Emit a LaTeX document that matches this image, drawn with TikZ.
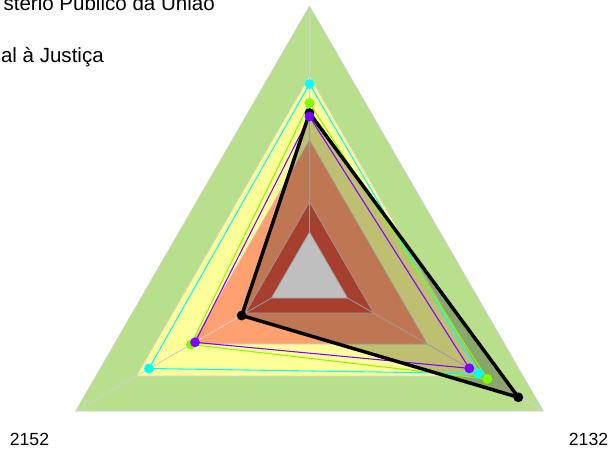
\documentclass[tikz,border=0pt]{standalone}
\usepackage{fontspec}
\setmainfont{Liberation Sans}
\definecolor{lvgreen}{HTML}{B8E08C}
\definecolor{lvyellow}{HTML}{FFFF99}
\definecolor{lvorange}{HTML}{FFA070}
\definecolor{lvred}{HTML}{E05540}
\definecolor{sercyan}{HTML}{00FFFF}
\definecolor{serlime}{HTML}{80FF00}
\definecolor{serpurple}{HTML}{8000FF}
\definecolor{gridgray}{HTML}{D0D0D0}
\begin{document}
\begin{tikzpicture}[x=0.75pt,y=-0.75pt,
  level/.style={draw=gridgray,line width=0.5pt},
  axisline/.style={draw=gridgray,line width=0.6pt},
  serline/.style={line width=0.8pt,line join=round},
  dot/.style={circle,inner sep=0pt,minimum size=7.4pt},
  leglbl/.style={font=\fontsize{15.4}{18}\selectfont,inner sep=0pt},
  lbl/.style={font=\fontsize{13.2}{16}\selectfont,inner sep=0pt}]
\useasboundingbox (0,0) rectangle (609,451);
\clip (0,0) rectangle (609,451);
% level triangles
\coordinate (g1) at (309.5,6);   \coordinate (g2) at (75.7,411);  \coordinate (g3) at (543.3,411);
\coordinate (y1) at (309.5,76);  \coordinate (y2) at (136.3,376); \coordinate (y3) at (482.7,376);
\coordinate (o1) at (309.5,140); \coordinate (o2) at (191.7,344); \coordinate (o3) at (427.3,344);
\coordinate (r1) at (309.5,202); \coordinate (r2) at (245.4,313); \coordinate (r3) at (373.6,313);
\coordinate (w1) at (309.5,232); \coordinate (w2) at (271.4,298); \coordinate (w3) at (347.6,298);
\fill[level,fill=lvgreen] (g1)--(g2)--(g3)--cycle;
\fill[level,fill=lvyellow] (y1)--(y2)--(y3)--cycle;
\fill[level,fill=lvorange] (o1)--(o2)--(o3)--cycle;
\fill[level,fill=lvred] (r1)--(r2)--(r3)--cycle;
\fill[level,fill=white] (w1)--(w2)--(w3)--cycle;
\draw[axisline] (w1)--(g1);
\draw[axisline] (w2)--(g2);
\draw[axisline] (w3)--(g3);
% series points
\coordinate (c1) at (309.5,84);   \coordinate (c2) at (149,368.5);  \coordinate (c3) at (478.3,373.5);
\coordinate (l1) at (309.5,103);  \coordinate (l2) at (191,344.5);  \coordinate (l3) at (487.3,379);
\coordinate (p1) at (309.5,116.5);\coordinate (p2) at (195,342.3);  \coordinate (p3) at (469.3,368.3);
\coordinate (k1) at (309.5,113);  \coordinate (k2) at (241.7,315.5);\coordinate (k3) at (518.3,397.3);
\fill[black,fill opacity=0.25] (k1)--(k2)--(k3)--cycle;
\draw[serline,sercyan] (c1)--(c2)--(c3)--cycle;
\draw[serline,serlime] (l1)--(l2)--(l3)--cycle;
\draw[serline,serpurple] (p1)--(p2)--(p3)--cycle;
\draw[black,line width=2.6pt,line join=round] (k1)--(k2)--(k3)--cycle;
\foreach \n in {k1,k2,k3} \node[dot,fill=black] (d\n) at (\n) {};
\foreach \n in {l1,l2,l3} \node[dot,fill=serlime] (d\n) at (\n) {};
\foreach \n in {c1,c2,c3} \node[dot,fill=sercyan] (d\n) at (\n) {};
\foreach \n in {p1,p2,p3} \node[dot,fill=serpurple] (d\n) at (\n) {};
% texts
\node[leglbl,anchor=base east] (leg1) at (215,10) {stério Público da União};
\node[leglbl,anchor=base east] (leg2) at (104,62) {al à Justiça};
\node[lbl,anchor=base] (ax2) at (29.5,445) {2152};
\node[lbl,anchor=base] (ax3) at (588.5,445) {2132};
\end{tikzpicture}
\end{document}
